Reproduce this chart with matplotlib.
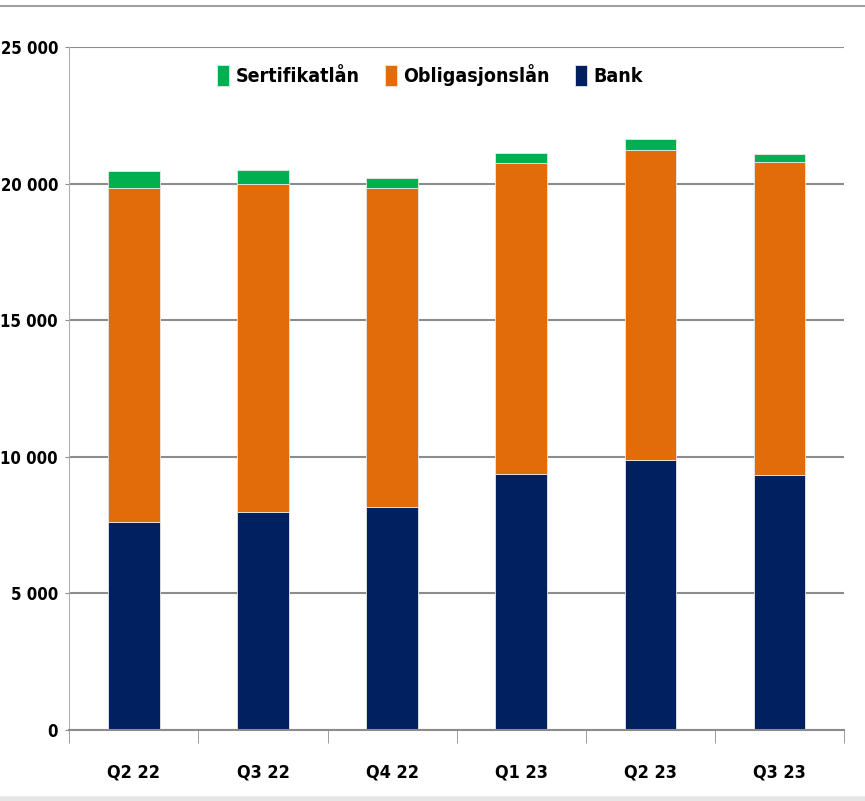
"""
Stacked bar chart of funding sources per quarter.
"""

###########
# Imports #
###########

import numpy as np
import matplotlib.pyplot as plt
from matplotlib import font_manager
from matplotlib.lines import Line2D

########
# Data #
########

quarters = ["Q2 22", "Q3 22", "Q4 22", "Q1 23", "Q2 23", "Q3 23"]
bank = [7600, 7990, 8170, 9380, 9900, 9350]
obligasjonslan = [12250, 12010, 11670, 11360, 11350, 11450]
sertifikatlan = [630, 510, 380, 400, 400, 270]
y_ticks = [0, 5000, 10000, 15000, 20000, 25000]
y_tick_labels = ["0", "5 000", "10 000", "15 000", "20 000", "25 000"]

#########
# Style #
#########

# Pick a narrow font if one is around
font_list = font_manager.fontManager.ttflist
narrow = [f for f in font_list
          if f.stretch in ("condensed", "semi-condensed", "extra-condensed")
          or "Narrow" in f.name or "Condensed" in f.name]
if narrow:
    plt.rcParams['font.family'] = [narrow[0].name, 'DejaVu Sans']
    plt.rcParams['font.stretch'] = narrow[0].stretch
else:
    plt.rcParams['font.family'] = ['DejaVu Sans']
plt.rcParams['font.weight'] = 'bold'

color_bank = "#002060"
color_oblig = "#E36C0A"
color_sert = "#00B050"

########
# Plot #
########

fig = plt.figure(figsize=(8.65, 8.01), dpi=100)
ax = fig.add_axes([0.080, 0.0886, 0.896, 0.8526])

x = np.arange(len(quarters))
bank_arr = np.array(bank)
oblig_arr = np.array(obligasjonslan)
sert_arr = np.array(sertifikatlan)

# Draw gridlines behind bars
ax.set_axisbelow(True)
ax.yaxis.grid(True, color="#8c8c8c", linewidth=1.5)

bar_kw = dict(width=0.4, edgecolor="#e8e8e8", linewidth=0.6)
ax.bar(x, bank_arr, color=color_bank, label="Bank", **bar_kw)
ax.bar(x, oblig_arr, bottom=bank_arr, color=color_oblig,
       label="Obligasjonslån", **bar_kw)
ax.bar(x, sert_arr, bottom=bank_arr + oblig_arr, color=color_sert,
       label="Sertifikatlån", **bar_kw)

# Axes limits and ticks
ax.set_xlim(-0.5, len(quarters) - 0.5)
ax.set_ylim(0, 25000)
ax.set_yticks(y_ticks)
ax.set_yticklabels(y_tick_labels, fontsize=12, fontweight="bold")
ax.tick_params(axis="y", length=3, color="#8c8c8c", pad=5)

ax.set_xticks(x)
ax.set_xticklabels(quarters, fontsize=13, fontweight="bold")
ax.tick_params(axis="x", length=0, pad=24)
ax.set_xticks(np.arange(len(quarters) + 1) - 0.5, minor=True)
ax.tick_params(axis="x", which="minor", length=9, color="#8c8c8c")

# Spines
for side in ["top", "right"]:
    ax.spines[side].set_visible(False)
ax.spines["left"].set_color("#b0b0b0")
ax.spines["bottom"].set_color("#8c8c8c")
ax.spines["bottom"].set_linewidth(1.5)

# Legend (reversed order: top segment first)
handles, labels = ax.get_legend_handles_labels()
ax.legend(handles[::-1], labels[::-1], loc="center",
          bbox_to_anchor=(0.466, 0.959), ncol=3, frameon=False,
          prop={"size": 14, "weight": "bold"}, handlelength=0.6,
          handleheight=1.3, handletextpad=0.35, columnspacing=1.3)

# Frame lines at top and bottom of the picture
fig.add_artist(Line2D([0, 1], [0.993, 0.993], color="#a0a0a0", linewidth=1.5))
fig.add_artist(Line2D([0, 1], [0.002, 0.002], color="#e6e6e6", linewidth=4))

plt.savefig("out.png", dpi=100)
